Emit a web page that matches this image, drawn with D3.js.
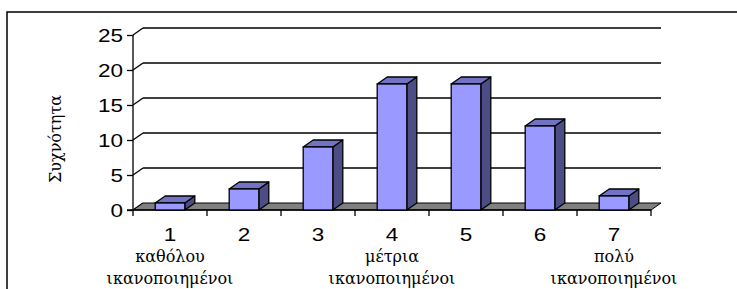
<!DOCTYPE html>
<html lang="el">
<head>
<meta charset="UTF-8">
<script src="https://d3js.org/d3.v7.min.js"></script>
<style>
  body { margin: 0; background: #fff; }
  svg { display: block; }
  .num { font-family: "Liberation Sans", Arial, sans-serif; font-size: 18px; }
  .txt { font-family: "DejaVu Serif", "Liberation Serif", serif; font-size: 16px; }
</style>
</head>
<body>
<div id="chart"></div>
<script>
const categories = ["1", "2", "3", "4", "5", "6", "7"];
const values = [1, 3, 9, 18, 18, 12, 2];
const subLabels = [
  ["καθόλου", "ικανοποιημένοι"], [], [],
  ["μέτρια", "ικανοποιημένοι"], [], [],
  ["πολύ", "ικανοποιημένοι"]
];
const yTicks = [0, 5, 10, 15, 20, 25];
const yTitle = "Συχνότητα";

const width = 737, height = 289;
const dx = 10, dy = -7; // 3D depth offset

const svg = d3.select("#chart").append("svg")
  .attr("width", width).attr("height", height);

// outer frame
svg.append("rect")
  .attr("x", 7).attr("y", 12).attr("width", 760).attr("height", 300)
  .attr("fill", "none").attr("stroke", "#000").attr("stroke-width", 1.5);

const x = d3.scaleBand().domain(categories).range([133, 651]).padding(0);
const y = d3.scaleLinear().domain([0, 25]).range([210, 35]);

const x0 = x.range()[0], x1 = x.range()[1];

// back wall gridlines + side wall diagonals
const grid = svg.append("g").attr("stroke", "#000").attr("stroke-width", 1.3).attr("fill", "none");
yTicks.forEach(t => {
  if (t > 0) {
    grid.append("line")
      .attr("x1", x0 + dx).attr("x2", x1 + dx)
      .attr("y1", y(t) + dy).attr("y2", y(t) + dy);
  }
  grid.append("line")
    .attr("x1", x0).attr("y1", y(t))
    .attr("x2", x0 + dx).attr("y2", y(t) + dy);
});

// floor
svg.append("path")
  .attr("d", `M${x0},${y(0)} L${x1},${y(0)} L${x1 + dx},${y(0) + dy} L${x0 + dx},${y(0) + dy} Z`)
  .attr("fill", "#808080").attr("stroke", "#000").attr("stroke-width", 1);

// y axis
const yAxis = svg.append("g").attr("transform", `translate(${x0},0)`)
  .call(d3.axisLeft(y).tickValues(yTicks).tickSize(6).tickPadding(4));
yAxis.select(".domain").attr("stroke", "#000").attr("stroke-width", 1.3).attr("d", `M-6,${y(0)}H0V${y(25)}`);
yAxis.selectAll(".tick line").attr("stroke", "#000").attr("stroke-width", 1.3);
yAxis.selectAll(".tick text")
  .attr("class", "num").attr("font-family", null).attr("font-size", null)
  .attr("fill", "#000").attr("x", null).attr("dy", null)
  .attr("text-anchor", "end").attr("dominant-baseline", "central")
  .attr("transform", "translate(-10,0) scale(1.25,1)");

// x axis ticks at band boundaries
const boundaries = categories.map(c => x(c)).concat([x1]);
svg.append("g").selectAll("line").data(boundaries).join("line")
  .attr("x1", d => d).attr("x2", d => d)
  .attr("y1", y(0)).attr("y2", y(0) + 6)
  .attr("stroke", "#000").attr("stroke-width", 1.3);
svg.append("line")
  .attr("x1", x0).attr("x2", x1).attr("y1", y(0)).attr("y2", y(0))
  .attr("stroke", "#000").attr("stroke-width", 1.3);

// bars
const bw = x.bandwidth() * 0.4;
const bars = svg.append("g").selectAll("g").data(categories).join("g");
bars.each(function(c, i) {
  const g = d3.select(this);
  const cx = x(c) + x.bandwidth() / 2;
  const l = cx - bw / 2, r = cx + bw / 2;
  const top = y(values[i]), bot = y(0);
  g.append("path")
    .attr("d", `M${r},${bot} L${r + dx},${bot + dy} L${r + dx},${top + dy} L${r},${top} Z`)
    .attr("fill", "#4d4d86").attr("stroke", "#000").attr("stroke-width", 1.3).attr("stroke-linejoin", "round");
  g.append("path")
    .attr("d", `M${l},${top} L${l + dx},${top + dy} L${r + dx},${top + dy} L${r},${top} Z`)
    .attr("fill", "#7373c4").attr("stroke", "#000").attr("stroke-width", 1.3).attr("stroke-linejoin", "round");
  g.append("rect")
    .attr("x", l).attr("y", top).attr("width", bw).attr("height", bot - top)
    .attr("fill", "#9999ff").attr("stroke", "#000").attr("stroke-width", 1.3);
});

// x labels
categories.forEach((c, i) => {
  const cx = x(c) + x.bandwidth() / 2;
  svg.append("text").attr("class", "num")
    .attr("text-anchor", "middle")
    .attr("transform", `translate(${cx},241) scale(1.25,1)`)
    .text(c);
  subLabels[i].forEach((s, j) => {
    svg.append("text").attr("class", "txt")
      .attr("x", cx).attr("y", 262 + j * 22)
      .attr("text-anchor", "middle").text(s);
  });
});

// y title
svg.append("text").attr("class", "txt")
  .attr("text-anchor", "middle")
  .attr("transform", "translate(61,139) rotate(-90)")
  .text(yTitle);
</script>
</body>
</html>
